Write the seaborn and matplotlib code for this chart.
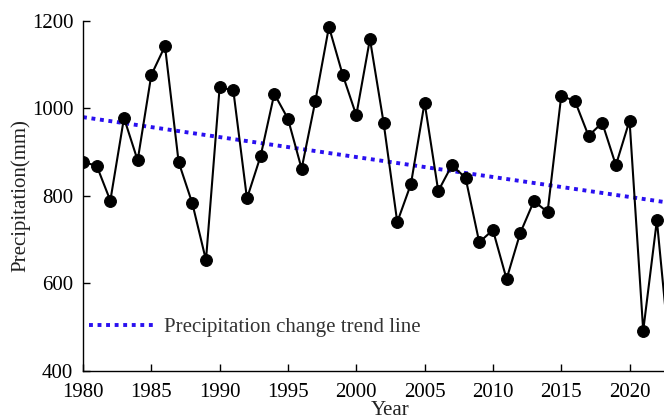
import numpy as np
import pandas as pd
import matplotlib
matplotlib.use("Agg")
import matplotlib.pyplot as plt
import seaborn as sns

years = list(range(1980, 2024))
precip = [877, 869, 789, 978, 881, 1076, 1142, 877, 783, 653,
          1048, 1041, 794, 891, 1033, 976, 862, 1016, 1186, 1077,
          984, 1158, 967, 740, 827, 1013, 811, 870, 841, 694,
          722, 610, 715, 788, 763, 1028, 1017, 937, 967, 870,
          972, 492, 744, 420]
x_ticks = [1980, 1985, 1990, 1995, 2000, 2005, 2010, 2015, 2020]
y_ticks = [400, 600, 800, 1000, 1200]
legend_label = "Precipitation change trend line"

df = pd.DataFrame({"Year": years, "Precipitation": precip})

sns.set_theme(style="white")
plt.rcParams["font.family"] = ["Liberation Serif", "DejaVu Serif"]

fig = plt.figure(figsize=(6.64, 4.2), dpi=100)
ax = fig.add_axes([0.125, 0.1167, 0.926, 0.834])

sns.lineplot(data=df, x="Year", y="Precipitation", ax=ax, color="black",
             marker="o", markersize=8.5, markeredgecolor="black",
             linewidth=1.5, zorder=3)
sns.regplot(data=df, x="Year", y="Precipitation", ax=ax, scatter=False, ci=None,
            label=legend_label,
            line_kws=dict(color="#2a10f0", linewidth=2.8, linestyle=(0, (1, 1.2)),
                          zorder=2))

ax.set_xlim(1980, 2025)
ax.set_ylim(400, 1200)
ax.set_xticks(x_ticks)
ax.set_yticks(y_ticks)
ax.tick_params(axis="both", direction="in", length=5, width=1, labelsize=15,
               colors="black", bottom=True, left=True)
ax.tick_params(axis="x", pad=9)
ax.tick_params(axis="y", pad=7)
for s in ["top", "right"]:
    ax.spines[s].set_visible(False)
for s in ["left", "bottom"]:
    ax.spines[s].set_color("black")
    ax.spines[s].set_linewidth(1.0)

ax.set_xlabel("Year", fontsize=15, color="#222222", labelpad=-1)
ax.set_ylabel("Precipitation(mm)", fontsize=15, color="#222222", labelpad=1)

handles, labels = ax.get_legend_handles_labels()
h = [hh for hh, ll in zip(handles, labels) if ll == legend_label]
leg = ax.legend(h, [legend_label], loc="lower left", bbox_to_anchor=(0.0, 0.078),
                frameon=False, fontsize=15, handlelength=3.2, handletextpad=0.4,
                borderaxespad=0.0, borderpad=0.3)
for t in leg.get_texts():
    t.set_color("#333333")

fig.savefig("out.png", dpi=100)
